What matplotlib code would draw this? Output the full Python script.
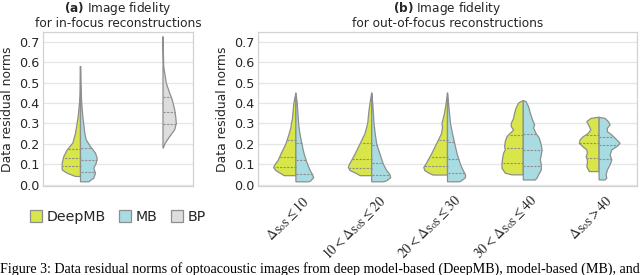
import numpy as np
import matplotlib
matplotlib.use("Agg")
import matplotlib.pyplot as plt
import matplotlib.transforms as mtransforms
from matplotlib.patches import Patch

# ---------------- data ----------------
series_names = ["DeepMB", "MB", "BP"]
yticks_vals = [0.0, 0.1, 0.2, 0.3, 0.4, 0.5, 0.6, 0.7]

# Panel (a): in-focus. profiles = (value levels, half-width density in px)
deepmb_inf_y = [0.041, 0.057, 0.073, 0.106, 0.138, 0.171, 0.204, 0.252, 0.334, 0.415, 0.45, 0.58]
deepmb_inf_w = [5, 13.3, 18.3, 18.3, 16.7, 13.3, 7.7, 5, 2.3, 0.7, 0.3, 0]
mb_inf_y = [0.015, 0.033, 0.057, 0.081, 0.106, 0.13, 0.155, 0.187, 0.22, 0.252, 0.334, 0.415, 0.5, 0.58]
mb_inf_w = [8.3, 13.3, 15, 13.3, 15.7, 16.7, 15, 10, 5.7, 4.3, 2.3, 1, 0.4, 0]
bp_inf_y = [0.178, 0.204, 0.236, 0.269, 0.301, 0.334, 0.366, 0.415, 0.448, 0.497, 0.578, 0.725]
bp_inf_w = [0, 2.3, 6.7, 11.7, 13.3, 12.7, 11.7, 9.3, 6.7, 3.3, 0.7, 0]
deepmb_inf_q = [0.094, 0.133, 0.175]
mb_inf_q = [0.065, 0.12, 0.18]
bp_inf_q = [0.296, 0.355, 0.427]

# Panel (b): out-of-focus
oof_categories = [r"$\Delta_{\mathrm{SoS}} \leq 10$",
                  r"$10 < \Delta_{\mathrm{SoS}} \leq 20$",
                  r"$20 < \Delta_{\mathrm{SoS}} \leq 30$",
                  r"$30 < \Delta_{\mathrm{SoS}} \leq 40$",
                  r"$\Delta_{\mathrm{SoS}} > 40$"]

deepmb_oof_y = [
    [0.045, 0.055, 0.07, 0.085, 0.10, 0.12, 0.15, 0.20, 0.25, 0.28, 0.30, 0.32, 0.35, 0.40, 0.45],
    [0.045, 0.055, 0.07, 0.085, 0.10, 0.12, 0.15, 0.20, 0.25, 0.30, 0.35, 0.40, 0.45],
    [0.048, 0.055, 0.07, 0.085, 0.10, 0.15, 0.20, 0.25, 0.28, 0.30, 0.33, 0.35, 0.40, 0.45],
    [0.049, 0.057, 0.081, 0.106, 0.13, 0.155, 0.171, 0.187, 0.212, 0.236, 0.252, 0.268, 0.285,
     0.301, 0.325, 0.35, 0.374, 0.40, 0.412],
    [0.065, 0.073, 0.089, 0.106, 0.122, 0.138, 0.155, 0.171, 0.187, 0.203, 0.22, 0.236, 0.252,
     0.269, 0.285, 0.309, 0.325, 0.331],
]
deepmb_oof_w = [
    [11.7, 15, 20, 22.3, 20.7, 17.7, 15, 10, 6.7, 5, 4.5, 3.5, 3, 2, 0],
    [11.7, 15, 21.7, 23.3, 22.3, 20, 16.7, 11.7, 6.7, 4, 3, 1.7, 0],
    [14.3, 17.7, 22.7, 23.7, 21.7, 16, 11, 6, 5, 5.5, 4, 3, 1.3, 0],
    [11.3, 18, 21.3, 21.3, 20.7, 19.7, 18, 18.7, 18, 16.3, 13, 9.7, 12, 12, 9.7, 8.7, 7.3, 4.7, 0],
    [9.7, 10.7, 12.3, 11.7, 11.7, 13, 11.7, 12.3, 16.3, 19.7, 19, 15.7, 10.7, 8.3, 9.7, 12.3, 8, 0],
]
mb_oof_y = [
    [0.015, 0.02, 0.035, 0.05, 0.07, 0.10, 0.15, 0.20, 0.25, 0.30, 0.35, 0.40, 0.45],
    [0.015, 0.02, 0.035, 0.05, 0.07, 0.10, 0.15, 0.20, 0.25, 0.30, 0.35, 0.40, 0.45],
    [0.015, 0.02, 0.035, 0.05, 0.07, 0.10, 0.15, 0.20, 0.25, 0.30, 0.35, 0.40, 0.45],
    [0.024, 0.033, 0.049, 0.073, 0.098, 0.122, 0.146, 0.171, 0.195, 0.228, 0.252, 0.277, 0.293,
     0.317, 0.35, 0.382, 0.407, 0.412],
    [0.024, 0.033, 0.049, 0.073, 0.098, 0.122, 0.146, 0.171, 0.187, 0.203, 0.22, 0.244, 0.26,
     0.277, 0.293, 0.309, 0.325, 0.33],
]
mb_oof_w = [
    [13, 15, 17.7, 16.7, 14.3, 11.7, 8.3, 6, 4, 2.7, 2, 1.3, 0],
    [12, 15, 19, 18.3, 15, 11.7, 8.3, 5, 3.5, 2.3, 1.7, 1, 0],
    [12, 14, 18, 18, 15.7, 13, 9.7, 7.3, 5, 3, 2, 1, 0],
    [12, 13.7, 15.3, 18, 18, 17, 18, 18.7, 18, 16, 12.7, 10.3, 11.3, 9.3, 7, 5.3, 2.7, 0],
    [6, 7.7, 7, 8.3, 11, 12.7, 11, 12.7, 17.7, 21, 17.7, 12.7, 8.3, 8.3, 11, 9.3, 6, 0],
]
deepmb_oof_q = [[0.087, 0.135, 0.22], [0.083, 0.125, 0.205], [0.09, 0.138, 0.22],
                [0.109, 0.179, 0.244], [0.133, 0.203, 0.244]]
mb_oof_q = [[0.054, 0.122, 0.207], [0.05, 0.105, 0.195], [0.06, 0.125, 0.21],
            [0.093, 0.171, 0.247], [0.127, 0.195, 0.236]]

# ---------------- style ----------------
C_DEEP = "#d8e64a"
C_MB = "#a8dce2"
C_BP = "#dddddd"
EDGE = "#8e8e8e"
GRID = "#e6e6e6"
SPINE = "#d2d2d2"
TXT = "#262626"
FS_TICK = 9.2
FS_LAB = 8.5
FS_TITLE = 8.7

plt.rcParams["font.family"] = ["DejaVu Sans"]

fig = plt.figure(figsize=(6.4, 2.75), dpi=100)
W, H = 640.0, 275.0
ax1 = fig.add_axes([43 / W, (H - 185.5) / H, 150 / W, 153.5 / H])
ax2 = fig.add_axes([258 / W, (H - 185.5) / H, 379 / W, 153.5 / H])


def half_violin(ax, pos, ys, ws, scale, side, color, quart):
    ys = np.asarray(ys, float)
    ws = np.asarray(ws, float) / scale
    sgn = -1 if side == "left" else 1
    xs = pos + sgn * ws
    px = np.concatenate([[pos], xs, [pos]])
    py = np.concatenate([[ys[0]], ys, [ys[-1]]])
    ax.fill(px, py, facecolor=color, edgecolor=EDGE, lw=0.9, zorder=2)
    for q in quart:
        wq = np.interp(q, ys, ws)
        ax.plot([pos, pos + sgn * wq], [q, q], color=EDGE, lw=0.8,
                ls=(0, (2.0, 1.2)), zorder=3)


def style_axes(ax):
    ax.set_ylim(-0.003, 0.747)
    ax.set_yticks(yticks_vals)
    ax.set_yticklabels([f"{v:.1f}" for v in yticks_vals], fontsize=FS_TICK, color=TXT)
    ax.yaxis.grid(True, color=GRID, lw=0.9)
    ax.xaxis.grid(False)
    ax.set_axisbelow(True)
    ax.tick_params(length=0, pad=2.5)
    for s in ax.spines.values():
        s.set_color(SPINE)
        s.set_linewidth(0.9)
    ax.set_ylabel("Data residual norms", fontsize=FS_LAB + 0.4, color=TXT, labelpad=4)


# Panel (a)
sc1 = 75.0
half_violin(ax1, 0.0, deepmb_inf_y, deepmb_inf_w, sc1, "left", C_DEEP, deepmb_inf_q)
half_violin(ax1, 0.0, mb_inf_y, mb_inf_w, sc1, "right", C_MB, mb_inf_q)
half_violin(ax1, 1.1, bp_inf_y, bp_inf_w, sc1, "right", C_BP, bp_inf_q)
ax1.set_xlim(-0.5, 1.5)
ax1.set_xticks([])
style_axes(ax1)
ax1.set_title(r"$\bf{(a)}$ Image fidelity" + "\nfor in-focus reconstructions",
              fontsize=FS_TITLE, color=TXT, pad=3.5, linespacing=1.05)

# Panel (b)
sc2 = 75.8
for i in range(len(oof_categories)):
    half_violin(ax2, i, deepmb_oof_y[i], deepmb_oof_w[i], sc2, "left", C_DEEP, deepmb_oof_q[i])
    half_violin(ax2, i, mb_oof_y[i], mb_oof_w[i], sc2, "right", C_MB, mb_oof_q[i])
ax2.set_xlim(-0.5, len(oof_categories) - 0.5)
ax2.set_xticks(range(len(oof_categories)))
ax2.set_xticklabels(oof_categories, rotation=45, ha="right", rotation_mode="anchor",
                    fontsize=10.0, color=TXT, math_fontfamily="stix")
style_axes(ax2)
ax2.tick_params(axis="x", pad=5)
shift = mtransforms.ScaledTranslation(6 / 100.0, 0, fig.dpi_scale_trans)
for lbl in ax2.get_xticklabels():
    lbl.set_transform(lbl.get_transform() + shift)
ax2.set_title(r"$\bf{(b)}$ Image fidelity" + "\nfor out-of-focus reconstructions",
              fontsize=FS_TITLE, color=TXT, pad=3.5, linespacing=1.05)

# Legend
handles = [Patch(facecolor=c, edgecolor=EDGE, lw=0.9) for c in (C_DEEP, C_MB, C_BP)]
fig.legend(handles, series_names, loc="center", bbox_to_anchor=(118 / W, 1 - 217 / H),
           ncol=3, frameon=False, fontsize=10.2, handlelength=0.85, handleheight=0.9,
           handletextpad=0.35, columnspacing=0.9, labelcolor=TXT)

# Caption (cut off at the bottom edge in the reference)
fig.text(0.0, 1 - 273 / H,
         "Figure 3: Data residual norms of optoacoustic images from deep model-based (DeepMB), model-based (MB), and",
         fontsize=10.1, family="Liberation Serif", color="black", ha="left", va="baseline")

fig.savefig("out.png", dpi=100)
